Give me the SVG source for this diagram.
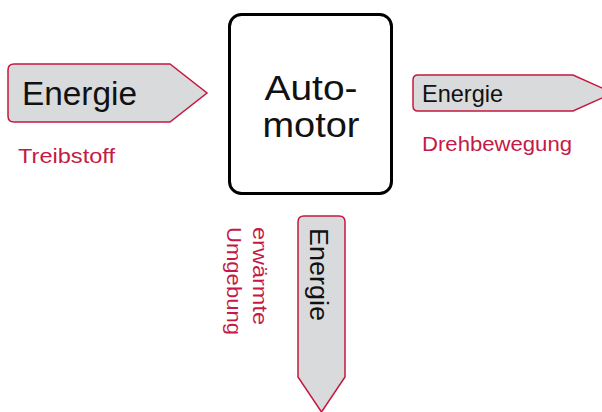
<svg xmlns="http://www.w3.org/2000/svg" width="602" height="412" viewBox="0 0 602 412">
<style>
.arrow{fill:#d9dadc;stroke:#c4183f;stroke-width:1.5;stroke-linejoin:miter}
.t{font-family:"Liberation Sans",Arial,sans-serif;fill:#111}
.lbl{font-family:"Liberation Sans",Arial,sans-serif;fill:#c41a45}
</style>
<rect width="602" height="412" fill="#fff"/>
<g id="motor">
<rect x="229.5" y="14.5" width="162" height="179" rx="12" fill="#fff" stroke="#000" stroke-width="3"/>
<text class="t" font-size="35" text-anchor="middle"><tspan x="311" y="100" textLength="93" lengthAdjust="spacingAndGlyphs">Auto-</tspan><tspan x="311" y="137" textLength="97" lengthAdjust="spacingAndGlyphs">motor</tspan></text>
</g>
<g id="input">
<path class="arrow" d="M14,64 H170 L207,93 L170,122 H14 Q8,122 8,116 V70 Q8,64 14,64 Z"/>
<text class="t" x="22" y="105" font-size="34" textLength="115" lengthAdjust="spacingAndGlyphs">Energie</text>
<text class="lbl" x="18" y="163" font-size="21" textLength="97" lengthAdjust="spacingAndGlyphs">Treibstoff</text>
</g>
<g id="output-right">
<path class="arrow" d="M418,75 H573 L613,93 L573,111 H418 Q413,111 413,106 V80 Q413,75 418,75 Z"/>
<text class="t" x="422" y="102" font-size="24" textLength="81" lengthAdjust="spacingAndGlyphs">Energie</text>
<text class="lbl" x="422" y="151" font-size="20" textLength="150" lengthAdjust="spacingAndGlyphs">Drehbewegung</text>
</g>
<g id="output-down">
<path class="arrow" d="M298,222 Q298,216 304,216 H339 Q345,216 345,222 V377 L321.5,412 L298,377 Z"/>
<text class="t" transform="translate(310,228) rotate(90)" font-size="25" textLength="93" lengthAdjust="spacingAndGlyphs">Energie</text>
<text class="lbl" transform="translate(253,227) rotate(90)" font-size="20" textLength="98" lengthAdjust="spacingAndGlyphs">erwärmte</text>
<text class="lbl" transform="translate(227,227) rotate(90)" font-size="20" textLength="108" lengthAdjust="spacingAndGlyphs">Umgebung</text>
</g>
<g id="connectors"></g>
</svg>
